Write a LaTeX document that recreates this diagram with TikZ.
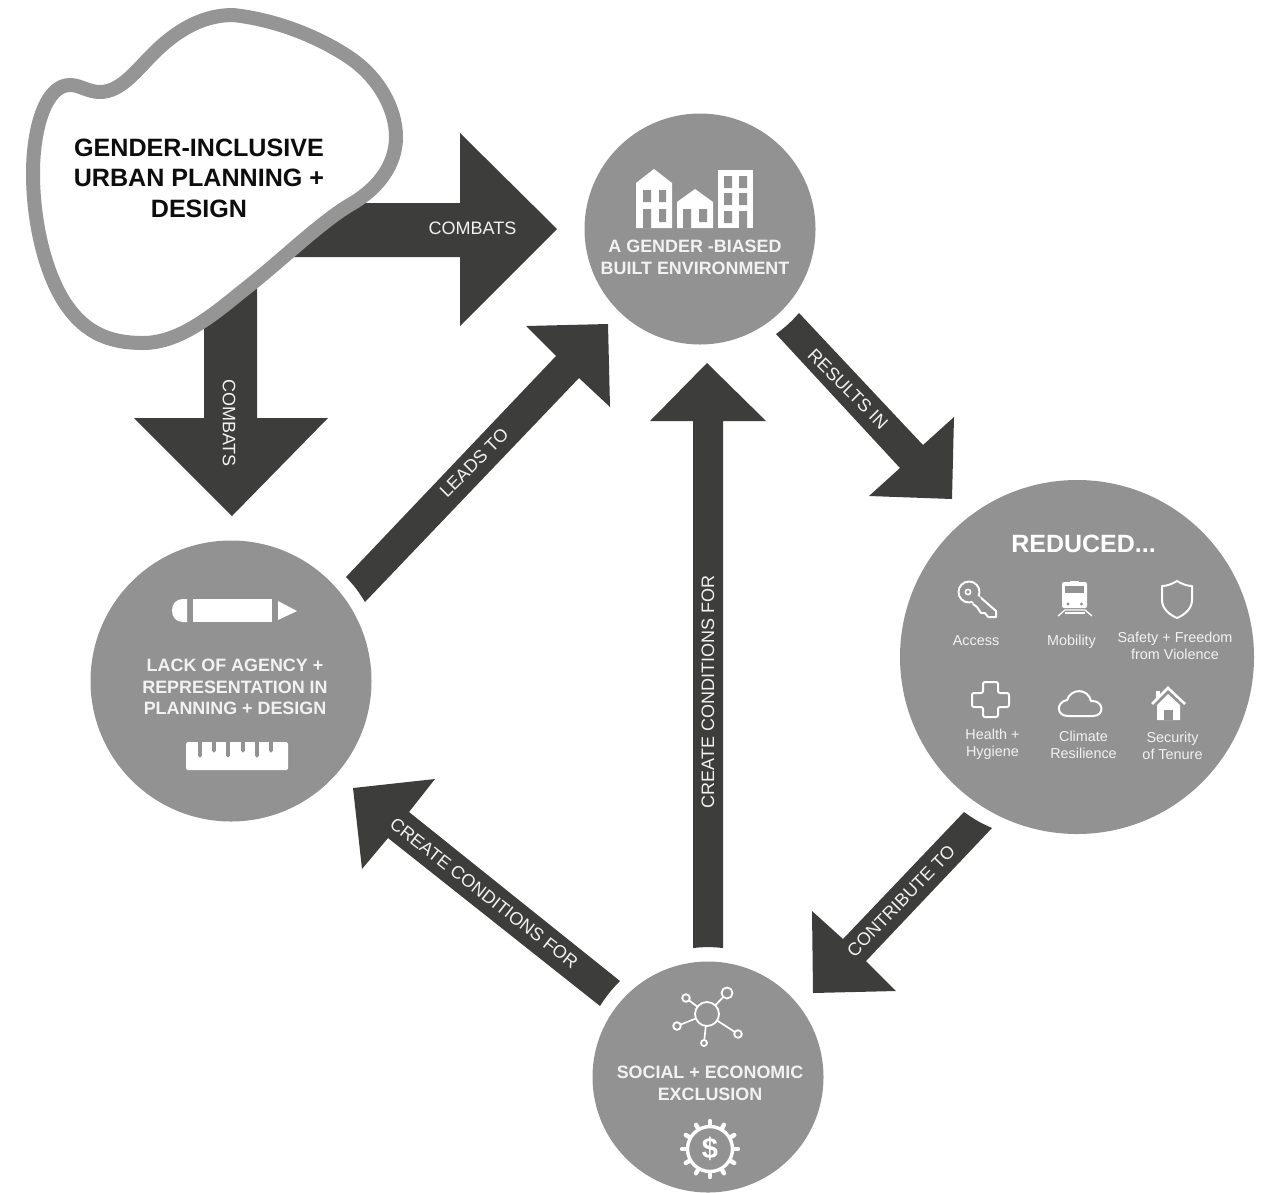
\documentclass[tikz,border=0pt]{standalone}
\usepackage{fontspec}
\setmainfont{Liberation Sans}
\usetikzlibrary{calc}
\definecolor{circgray}{HTML}{929292}
\definecolor{arrowdark}{HTML}{3D3D3B}
\definecolor{blobgray}{HTML}{959595}
\definecolor{softwhite}{HTML}{F2F2F2}
\tikzset{
  hub/.style={circle,fill=circgray,inner sep=0pt,minimum size=#1},
  fat/.style={fill=arrowdark},
  arrowlabel/.style={text=softwhite,font=\fontsize{18}{20}\selectfont,inner sep=0pt},
  hubtitle/.style={text=softwhite,font=\fontsize{17.9}{21.8}\bfseries\selectfont,align=center,inner sep=0pt},
  smalllabel/.style={text=softwhite,font=\fontsize{14.4}{17}\selectfont,align=center,inner sep=0pt},
  glyph/.style={draw=white,line width=2pt,line join=round,line cap=round},
  solidw/.style={fill=white},
  hole/.style={fill=circgray}
}
\begin{document}
\begin{tikzpicture}[x=1pt,y=-1pt]
\useasboundingbox (0,0) rectangle (1265,1192);
% named anchors
\node[hub=231pt] (T) at (700,229) {};
\node[hub=354pt] (R) at (1077,657) {};
\node[hub=231pt] (S) at (708,1077) {};
\node[hub=281pt] (L) at (231,681) {};
\coordinate (B) at (199,178);

% block arrows
\fill[fat] ($(B)+(60,25)$) -- ($(T)+(-240,-26)$) -- ($(T)+(-240,-96)$) -- ($(T)+(-143,0)$) -- ($(T)+(-240,97)$) -- ($(T)+(-240,28)$) -- ($(B)+(60,79)$) -- cycle;
\fill[fat] ($(B)+(5,92)$) -- ($(L)+(-27,-263)$) -- ($(L)+(-97,-263)$) -- ($(L)+(1,-165)$) -- ($(L)+(97,-263)$) -- ($(L)+(26,-263)$) -- ($(B)+(58,92)$) -- cycle;
\fill[fat] ($(L)+(115,-104)$) -- ($(T)+(-144,127)$) -- ($(T)+(-174,97)$) -- ($(T)+(-92,95)$) -- ($(T)+(-90,178)$) -- ($(T)+(-121,149)$) -- ($(L)+(134,-79)$) to[bend right=6] ($(L)+(115,-104)$) -- cycle;
\fill[fat] ($(T)+(99,84)$) -- ($(R)+(-154,-212)$) -- ($(R)+(-123,-240)$) -- ($(R)+(-125,-158)$) -- ($(R)+(-208,-161)$) -- ($(R)+(-177,-189)$) -- ($(T)+(76,105)$) to[bend right=6] ($(T)+(99,84)$) -- cycle;
\fill[fat] ($(R)+(-113,155)$) -- ($(S)+(135,-138)$) -- ($(S)+(104,-166)$) -- ($(S)+(105,-84)$) -- ($(S)+(188,-86)$) -- ($(S)+(158,-116)$) -- ($(R)+(-85,171)$) to[bend left=6] ($(R)+(-113,155)$) -- cycle;
\fill[fat] ($(S)+(-88,-96)$) -- ($(L)+(178,131)$) -- ($(L)+(204,98)$) -- ($(L)+(122,107)$) -- ($(L)+(131,188)$) -- ($(L)+(157,157)$) -- ($(S)+(-108,-71)$) to[bend left=6] ($(S)+(-88,-96)$) -- cycle;
\fill[fat] ($(S)+(-15,-129)$) -- ($(T)+(-7,192)$) -- ($(T)+(-50,192)$) -- ($(T)+(7,134)$) -- ($(T)+(66,192)$) -- ($(T)+(23,192)$) -- ($(S)+(15,-129)$) to[bend right=6] ($(S)+(-15,-129)$) -- cycle;

% blob
\draw[blobgray,fill=white,line width=14pt,line join=round]
  (233,15) .. controls (280,20) and (325,40) .. (353,60)
  .. controls (378,78) and (396,108) .. (396,137)
  .. controls (396,165) and (378,188) .. (353,203)
  .. controls (320,222) and (285,258) .. (240,293)
  .. controls (205,322) and (175,343) .. (143,343)
  .. controls (105,343) and (82,330) .. (63,300)
  .. controls (42,265) and (33,215) .. (33,173)
  .. controls (33,130) and (45,85) .. (70,85)
  .. controls (80,85) and (88,92) .. (100,92)
  .. controls (122,92) and (138,68) .. (157,50)
  .. controls (180,28) and (205,15) .. (233,15) -- cycle;
\node[align=center,inner sep=0pt,font=\fontsize{25.1}{30.5}\bfseries\selectfont,text=black!95] (Btext) at (B) {GENDER-INCLUSIVE\\URBAN PLANNING +\\DESIGN};

% arrow labels
\node[arrowlabel] (l1) at (472.5,228.5) {COMBATS};
\node[arrowlabel,rotate=-90] (l2) at (229,423) {COMBATS};
\node[arrowlabel,rotate=45] (l3) at (474,463) {LEADS TO};
\node[arrowlabel,rotate=-45] (l4) at (848,389) {RESULTS IN};
\node[arrowlabel,rotate=46] (l5) at (901,901) {CONTRIBUTE TO};
\node[arrowlabel,rotate=-38] (l6) at (484,893) {CREATE CONDITIONS FOR};
\node[arrowlabel,rotate=90] (l7) at (708,692) {CREATE CONDITIONS FOR};

% hub titles
\node[hubtitle] (tT) at (695,257.5) {A GENDER -BIASED\\BUILT ENVIRONMENT};
\node[hubtitle] (tL) at (235,687) {LACK OF AGENCY +\\REPRESENTATION IN\\PLANNING + DESIGN};
\node[hubtitle] (tS) at (710,1083.5) {SOCIAL + ECONOMIC\\EXCLUSION};
\node[text=white,font=\fontsize{25}{28}\bfseries\selectfont,inner sep=0pt] (tR) at (1083.5,543.5) {REDUCED...};
\node[smalllabel] (n1) at (976,641) {Access};
\node[smalllabel] (n2) at (1071.5,642) {Mobility};
\node[smalllabel] (n3) at (1175,646) {Safety + Freedom\\from Violence};
\node[smalllabel] (n4) at (992.5,744.5) {Health +\\Hygiene};
\node[smalllabel] (n5) at (1083.5,744.5) {Climate\\Resilience};
\node[smalllabel] (n6) at (1172.5,746) {Security\\of Tenure};

% houses
\fill[solidw] (636,183) -- (654,169) -- (672,183) -- (672,228) -- (636,228) -- cycle;
\fill[hole] (643,190) rectangle (651,202) (659,190) rectangle (666,202) (643,209) rectangle (651,228) (659,209) rectangle (666,222);
\fill[solidw] (677,202) -- (695,189) -- (713,202) -- (713,228) -- (677,228) -- cycle;
\fill[hole] (683,209) rectangle (691,228) (699,209) rectangle (707,222);
\fill[solidw] (718,170) rectangle (753,228);
\fill[hole] (724,176) rectangle (732,188) (739,176) rectangle (747,188)
            (724,193) rectangle (732,205) (739,193) rectangle (747,205)
            (724,211) rectangle (732,223) (739,211) rectangle (747,228);

% pencil
\fill[solidw] (187,599) -- (187,622) -- (183,622) .. controls (176,622) and (172,617) .. (172,610.5) .. controls (172,604) and (176,599) .. (183,599) -- cycle;
\fill[solidw] (193,599) rectangle (272,622);
\fill[solidw] (278,601) -- (297,611) -- (278,620) -- cycle;
% ruler
\fill[solidw,rounded corners=1.5pt] (186,742) -- (288,742) -- (288,770) -- (186,770) -- cycle;
\foreach \px/\py in {200/757,214/752,228/757,243/752,257/757,271/752}
  \draw[circgray,line width=3.2pt] (\px,741) -- (\px,\py-1);
\foreach \px/\py in {200/757,214/752,228/757,243/752,257/757,271/752}
  \fill[circgray] (\px,\py-1) circle[radius=1.6pt];

% network
\foreach \ax/\ay in {727/993,686/998,677/1026,738/1034,704/1043}
  \draw[white,line width=1.7pt] (707,1014) -- (\ax,\ay);
\draw[white,line width=1.8pt,fill=circgray] (707,1014) circle[radius=12pt];
\draw[white,line width=1.8pt,fill=circgray] (727,993) circle[radius=5.5pt];
\draw[white,line width=1.8pt,fill=circgray] (686,998) circle[radius=3.8pt];
\draw[white,line width=1.8pt,fill=circgray] (677,1026) circle[radius=3.8pt];
\draw[white,line width=1.8pt,fill=circgray] (738,1034) circle[radius=3.8pt];
\draw[white,line width=1.8pt,fill=circgray] (704,1043) circle[radius=3pt];

% gear
\draw[white,line width=3.4pt] (710,1149) circle[radius=22.5pt];
\foreach \ang in {0,30,...,330}
  \draw[white,line width=4.4pt,line cap=round] (710,1149) ++(\ang:24pt) -- ++(\ang:4pt);
\node[text=white,font=\fontsize{29}{30}\bfseries\selectfont,inner sep=0pt] (dollar) at (710,1149) {\$};

% key
\draw[glyph] (980,597) -- (996,611) -- (996,617) -- (988,617) -- (985,613) -- (981,613) -- (977,607) -- (973,604);
\draw[glyph,fill=circgray] (969,592) circle[radius=10.5pt];
\draw[white,line width=1.6pt] (968,592) circle[radius=2.6pt];
\fill[hole] (974,594) -- (981,598) -- (976,604) -- (971,600) -- cycle;

% train
\fill[solidw,rounded corners=2pt] (1062,582) rectangle (1087,608);
\fill[solidw] (1070,580.5) rectangle (1079,583);
\fill[hole] (1065,586) rectangle (1084,593);
\fill[hole] (1068,604) circle[radius=1.7pt] (1081.5,604) circle[radius=1.7pt];
\draw[white,line width=1.3pt] (1058,616) -- (1065,610) -- (1085,610) -- (1092,616);
\draw[white,line width=1.3pt] (1065,613) -- (1085,613);

% shield
\draw[glyph] (1177,581) .. controls (1172,584) and (1167,586) .. (1162,586) -- (1162,600)
  .. controls (1162,609) and (1170,615) .. (1177,618) .. controls (1184,615) and (1192,609) .. (1192,600)
  -- (1192,586) .. controls (1187,586) and (1182,584) .. (1177,581) -- cycle;

% cross
\draw[glyph,rounded corners=2pt] (983,682) -- (998,682) -- (998,693) -- (1009,693) -- (1009,707) -- (998,707) -- (998,717)
  -- (983,717) -- (983,707) -- (972,707) -- (972,693) -- (983,693) -- cycle;

% cloud
\draw[glyph] (1068,716) .. controls (1056,716) and (1056,702) .. (1067,700) .. controls (1071,688) and (1088,688) .. (1091,701)
  .. controls (1104,700) and (1105,716) .. (1093,716) -- cycle;

% home
\fill[solidw] (1156,691) rectangle (1160,698);
\draw[white,line width=2.6pt] (1152,704) -- (1168,688) -- (1185,704);
\fill[solidw] (1157,705) -- (1168,694) -- (1180,705) -- (1180,720) -- (1157,720) -- cycle;
\fill[hole] (1164,710) rectangle (1173,720);
\end{tikzpicture}
\end{document}
